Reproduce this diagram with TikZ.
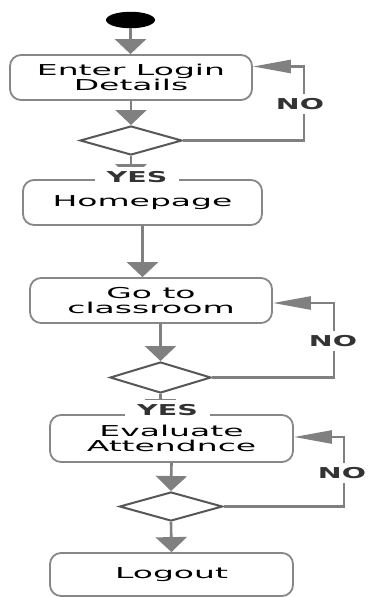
\documentclass[tikz,border=0pt]{standalone}
\usepackage{fontspec}
\usetikzlibrary{shapes.geometric, arrows.meta}

\newfontfamily\boxfont{DejaVu Sans}[FakeStretch=2.2]
\newfontfamily\lblfont{DejaVu Sans}[FakeStretch=1.9]

\definecolor{linegray}{gray}{0.5}
\definecolor{boxgray}{gray}{0.53}
\definecolor{diagray}{gray}{0.34}
\definecolor{lblgray}{gray}{0.2}

\newcommand{\pxscl}{1}
\newcommand{\px}[1]{#1*\pxscl}
\newcommand{\actn}{\node[rectangle, rounded corners=11pt, draw=boxgray, line width=1.8pt, inner sep=0pt, align=center, font={\boxfont\fontsize{15}{15.5}\selectfont}]}
\newcommand{\decn}{\node[diamond, draw=diagray, line width=2pt, inner sep=0pt]}
\newcommand{\lbln}{\node[fill=white, text=lblgray, inner xsep=12pt, inner ysep=4.5pt, font={\lblfont\bfseries\fontsize{15}{15}\selectfont}]}

\tikzset{
    flow/.style={draw=linegray, line width=2.6pt, -{Triangle[width=31pt, length=15pt]}},
    back/.style={draw=linegray, line width=2.6pt, -{Triangle[width=13pt, length=38pt]}}
}

\begin{document}
\begin{tikzpicture}[x=1pt, y=1pt]
            \useasboundingbox (0,0) rectangle (\px{368}, \px{-597});

            \node[ellipse, fill=black, minimum width=49pt, minimum height=16.5pt] (start) at (\px{130.5}, \px{-20}) {};
            \actn[minimum width=242pt, minimum height=45pt] (login) at (\px{131}, \px{-77.5}) {Enter Login\\Details};
            \decn[minimum width=102pt, minimum height=29pt] (dia1) at (\px{131}, \px{-140.5}) {};
            \actn[minimum width=239pt, minimum height=45pt] (home) at (\px{142.5}, \px{-202.5}) {Homepage};
            \actn[minimum width=242pt, minimum height=45pt] (room) at (\px{151}, \px{-300.5}) {Go to\\classroom};
            \decn[minimum width=101pt, minimum height=31pt] (dia2) at (\px{160.5}, \px{-377.5}) {};
            \actn[minimum width=243pt, minimum height=47pt] (eval) at (\px{171.5}, \px{-438.5}) {Evaluate\\Attendnce};
            \decn[minimum width=103pt, minimum height=29pt] (dia3) at (\px{171}, \px{-506.5}) {};
            \actn[minimum width=243pt, minimum height=43pt] (logout) at (\px{171.5}, \px{-574.5}) {Logout};

            % main flow
            \draw[flow] (start.south) -- (start.south |- login.north);
            \draw[flow] (login.south) -- (dia1.north);
            \draw[flow] (dia1.south) -- (dia1.south |- home.north);
            \draw[flow] (home.south) -- (home.south |- room.north);
            \draw[flow] (dia2.north |- room.south) -- (dia2.north);
            \draw[flow] (dia2.south) -- (dia2.south |- eval.north);
            \draw[flow] (eval.south) -- (dia3.north);
            \draw[flow] (dia3.south) -- (logout.north);

            % loops back
            \draw[back] (dia1.east) -| ++(121,74) -- ([yshift=11pt]login.east);
            \draw[back] (dia2.east) -| ++(122,74.5) -- ([yshift=-2.5pt]room.east);
            \draw[back] (dia3.east) -| ++(120.5,69.5) -- ([yshift=1.5pt]eval.east);

            \lbln (yes1) at (\px{137}, \px{-177}) {YES};
            \lbln (yes2) at (\px{167.5}, \px{-410.5}) {YES};
            \lbln (no1) at (\px{300}, \px{-104}) {NO};
            \lbln (no2) at (\px{333}, \px{-341}) {NO};
            \lbln (no3) at (\px{342}, \px{-473}) {NO};
        \end{tikzpicture}
\end{document}
